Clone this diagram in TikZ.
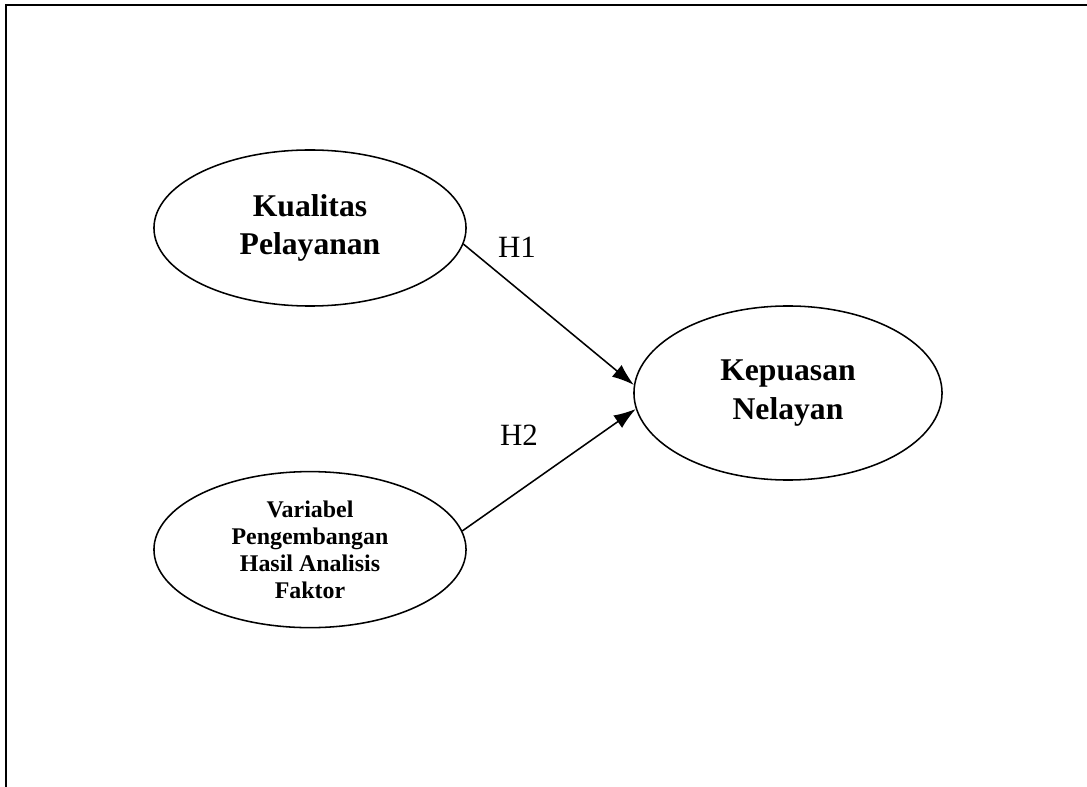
\documentclass[tikz,border=0pt]{standalone}
\usepackage{fontspec}
\setmainfont{Liberation Serif}
\usepackage{tikz}
\usetikzlibrary{arrows.meta,positioning,shapes.geometric}

\begin{document}
\begin{tikzpicture}[x=0.025cm,y=-0.025cm,
		var/.style={ellipse, draw, line width=1.1pt, minimum width=7.8cm, minimum height=3.9cm, align=center, inner sep=0pt},
		big/.style={font=\fontsize{22.5}{27.5}\selectfont\bfseries},
		small/.style={font=\fontsize{17}{19.2}\selectfont\bfseries},
		hyp/.style={-{Latex[length=0.55cm,width=0.38cm]}, line width=1.1pt},
		hlabel/.style={font=\fontsize{22}{26}\selectfont}
	]
	\useasboundingbox (0,0) rectangle (1087,787);
	% frame
	\coordinate (f1) at (6,787);
	\coordinate (f2) at (6,5);
	\coordinate (f3) at (1087,5);
	\draw [line width=1.8pt] (f1) -- (f2) -- (f3);
	
	\node [var, big] (kp) at (310,228) {Kualitas\\Pelayanan};
	\node [var, small, below=4.1cm of kp] (vp) {Variabel\\Pengembangan\\Hasil Analisis\\Faktor};
	\node [var, big, minimum width=7.7cm, minimum height=4.35cm] (kn) at (788,393) {Kepuasan\\Nelayan};
	
	\draw [hyp] (kp.354) -- (kn.177);
	\draw [hyp] (vp.7) -- (kn.186);
	\node [hlabel] (h1) at (517,247) {H1};
	\node [hlabel] (h2) at (519,435) {H2};
\end{tikzpicture}
\end{document}
